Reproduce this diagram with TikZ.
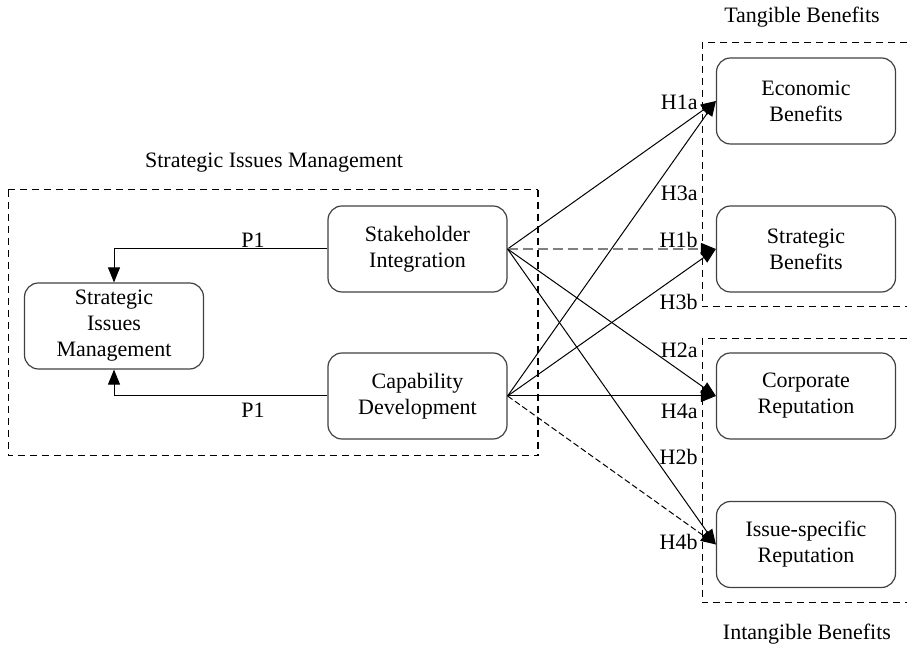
\documentclass[tikz,border=0pt]{standalone}
\usepackage{fontspec}
\setmainfont{Liberation Serif}
\usetikzlibrary{arrows.meta}
\begin{document}
\begin{tikzpicture}[x=0.5pt,y=-0.5pt,
  every node/.style={font=\fontsize{11}{13}\selectfont},
  box/.style={draw=black!75, line width=0.6pt, rounded corners=7pt, minimum width=89.5pt, minimum height=43pt, align=center, inner sep=0pt},
  group/.style={draw, dashed, line width=0.5pt, dash pattern=on 3.5pt off 2.5pt},
  link/.style={line width=0.5pt, -{Triangle[length=7.5pt,width=6pt,color=black]}},
  hlabel/.style={anchor=east, inner sep=0pt}]
\useasboundingbox (0,0) rectangle (907,646);

% group frames
\draw[group] (8,190) -- (538,190);
\draw[group] (8,190) -- (8,456) -- (538,456);
\draw[group, line width=0.9pt] (538,190) -- (538,456);
\draw[group] (907,43) -| (702,307) -- (907,307);
\draw[group] (907,339) -| (702,603) -- (907,603);

% group titles
\node at (274,163) {Strategic Issues Management};
\node at (802,17) {Tangible Benefits};
\node at (807,634) {Intangible Benefits};

% construct boxes
\node[box] (sim) at (114,326) {Strategic\\Issues\\Management};
\node[box] (si) at (417.5,249) {Stakeholder\\Integration};
\node[box] (cd) at (417.5,396) {Capability\\Development};
\node[box] (eb) at (806,101) {Economic\\Benefits};
\node[box] (sb) at (806,249) {Strategic\\Benefits};
\node[box] (cr) at (806,396) {Corporate\\Reputation};
\node[box] (ir) at (806,544.5) {Issue-specific\\Reputation};

% P1 links into strategic issues management
\draw[link] (si.west) -| (sim.north);
\draw[link] (cd.west) -| (sim.south);
\node at (253,240) {P1};
\node at (253,410) {P1};

% hypothesised paths
\draw[link] (si.east) -- (eb.west);
\draw[link, draw=black!50, line width=0.7pt, dash pattern=on 5pt off 2.5pt] (si.east) -- (sb.west);
\draw[link] (si.east) -- (cr.west);
\draw[link] (si.east) -- (ir.west);
\draw[link] (cd.east) -- (eb.west);
\draw[link] (cd.east) -- (sb.west);
\draw[link] (cd.east) -- (cr.west);
\draw[link, dash pattern=on 3pt off 1.5pt] (cd.east) -- (ir.west);

% hypothesis labels
\node[hlabel] at (698,102) {H1a};
\node[hlabel] at (698,193) {H3a};
\node[hlabel] at (698,240) {H1b};
\node[hlabel] at (698,302) {H3b};
\node[hlabel] at (698,350) {H2a};
\node[hlabel] at (698,411) {H4a};
\node[hlabel] at (698,457) {H2b};
\node[hlabel] at (698,542) {H4b};
\end{tikzpicture}
\end{document}
